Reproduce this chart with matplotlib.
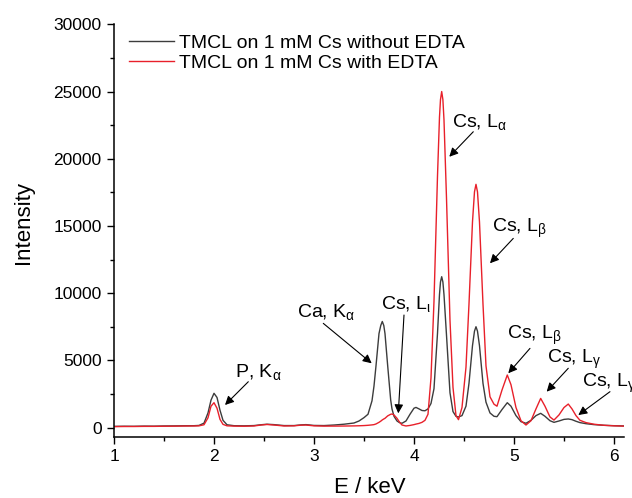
import matplotlib
matplotlib.use("Agg")
import matplotlib.pyplot as plt
from matplotlib.ticker import MultipleLocator

plt.rcParams['font.family'] = ['Liberation Sans', 'DejaVu Sans']
plt.rcParams['mathtext.fontset'] = 'custom'
plt.rcParams['mathtext.rm'] = 'Liberation Sans'
plt.rcParams['mathtext.it'] = 'Liberation Sans'
plt.rcParams['mathtext.bf'] = 'Liberation Sans:bold'

# ---- data ----
energy = [1.00, 1.10, 1.20, 1.30, 1.40, 1.50, 1.60, 1.70, 1.80, 1.85, 1.90, 1.94, 1.97, 2.00,
          2.03, 2.06, 2.09, 2.13, 2.20, 2.30, 2.40, 2.47, 2.53, 2.60, 2.70, 2.80, 2.87, 2.92,
          3.00, 3.10, 3.20, 3.30, 3.40, 3.45, 3.50, 3.54, 3.58, 3.60, 3.62, 3.65, 3.668, 3.683,
          3.698, 3.71, 3.737, 3.767, 3.78, 3.80, 3.83, 3.855, 3.88, 3.92, 3.96, 4.00, 4.02,
          4.05, 4.08, 4.11, 4.14, 4.17, 4.20, 4.235, 4.255, 4.265, 4.277, 4.289, 4.30, 4.325,
          4.36, 4.39, 4.42, 4.445, 4.48, 4.52, 4.55, 4.585, 4.605, 4.62, 4.635, 4.655, 4.69,
          4.72, 4.76, 4.80, 4.83, 4.88, 4.933, 4.97, 5.02, 5.07, 5.12, 5.17, 5.22, 5.267,
          5.31, 5.36, 5.40, 5.45, 5.50, 5.543, 5.58, 5.62, 5.66, 5.72, 5.80, 5.90, 6.00, 6.10]

without_edta = [100, 110, 105, 120, 115, 130, 135, 145, 150, 170, 340, 1100, 2050, 2560,
                2250, 1300, 550, 220, 150, 140, 160, 220, 260, 230, 160, 160, 210, 230,
                170, 160, 200, 260, 350, 500, 750, 1000, 2000, 3100, 4600, 7000, 7610, 7900,
                7600, 7000, 4600, 2060, 1400, 850, 500, 380, 330, 500, 1000, 1450, 1510,
                1400, 1280, 1260, 1400, 1800, 2900, 7000, 9900, 10840, 11230, 10840, 9900, 6900,
                2600, 1200, 850, 800, 900, 1600, 3300, 6100, 7180, 7510, 7180, 6100, 3300,
                1900, 1100, 850, 820, 1350, 1860, 1600, 900, 450, 330, 550, 900, 1070,
                850, 520, 400, 500, 620, 650, 600, 480, 380, 300, 230, 180, 150, 130]

with_edta = [80, 90, 90, 100, 100, 110, 115, 125, 130, 140, 220, 740, 1600, 1860,
             1450, 620, 250, 140, 120, 110, 130, 200, 240, 200, 130, 140, 190, 200,
             140, 120, 120, 125, 135, 145, 160, 180, 210, 230, 280, 400, 490, 580,
             650, 700, 880, 1000, 1020, 950, 700, 420, 200, 130, 170, 230, 270,
             320, 400, 550, 1000, 3700, 9400, 18700, 23100, 24400, 25000, 24400, 22900, 17100,
             8000, 3000, 900, 600, 1500, 4500, 9200, 15300, 17540, 18100, 17540, 15300, 9200,
             4600, 2300, 1750, 1600, 2800, 3920, 3200, 1500, 520, 200, 520, 1400, 2180,
             1600, 800, 570, 950, 1500, 1760, 1400, 900, 550, 380, 260, 180, 140, 120]

series_labels = ["TMCL on 1 mM Cs without EDTA", "TMCL on 1 mM Cs with EDTA"]

# annotations: label, text position, arrow tail, arrow head
ann_labels = [r"P, K$_{\mathrm{α}}$", r"Ca, K$_{\mathrm{α}}$", r"Cs, L$_{\mathrm{ι}}$",
              r"Cs, L$_{\mathrm{α}}$", r"Cs, L$_{\mathrm{β}}$", r"Cs, L$_{\mathrm{β}}$",
              r"Cs, L$_{\mathrm{γ}}$", r"Cs, L$_{\mathrm{γ}}$"]
ann_text_xy = [(2.21, 3790), (2.83, 8210), (3.667, 8800), (4.383, 22380),
               (4.783, 14530), (4.933, 6600), (5.327, 4830), (5.683, 3050)]
ann_tail_xy = [(2.343, 3420), (3.093, 7760), (3.90, 8380), (4.593, 22010),
               (4.993, 14080), (5.16, 5900), (5.543, 4420), (5.96, 2680)]
ann_head_xy = [(2.11, 1690), (3.577, 4790), (3.843, 1070), (4.353, 20150),
               (4.76, 12230), (4.943, 4050), (5.327, 2680), (5.643, 940)]

# ---- figure ----
fig = plt.figure(figsize=(6.32, 4.98), dpi=100)
ax = fig.add_axes([0.1804, 0.1225, 0.8069, 0.8287])

ax.plot(energy, without_edta, color='#3c3c3c', lw=1.0, label=series_labels[0])
ax.plot(energy, with_edta, color='#e8202a', lw=1.0, label=series_labels[1])

ax.set_xlim(1, 6.1)
ax.set_ylim(-690, 30000)
ax.xaxis.set_major_locator(MultipleLocator(1))
ax.xaxis.set_minor_locator(MultipleLocator(0.5))
ax.yaxis.set_major_locator(MultipleLocator(5000))
ax.yaxis.set_minor_locator(MultipleLocator(2500))

for s in ['top', 'right']:
    ax.spines[s].set_visible(False)
for s in ['left', 'bottom']:
    ax.spines[s].set_linewidth(1.1)

ax.tick_params(which='major', direction='out', length=5, width=1.0, labelsize=12.5, pad=4)
ax.tick_params(which='minor', direction='out', length=3, width=1.0)

ax.set_xlabel("E / keV", fontsize=16)
ax.set_ylabel("Intensity", fontsize=16)
ax.xaxis.set_label_coords(0.502, -0.098)
ax.yaxis.set_label_coords(-0.157, 0.52)

leg = ax.legend(loc='upper left', bbox_to_anchor=(0.030, 0.975), frameon=False,
                fontsize=14, handlelength=2.3, handletextpad=0.25, borderpad=0,
                borderaxespad=0, labelspacing=0.1)

for lab, txy, tail, head in zip(ann_labels, ann_text_xy, ann_tail_xy, ann_head_xy):
    ax.text(txy[0], txy[1], lab, fontsize=14, ha='left', va='baseline', clip_on=False)
    ax.annotate("", xy=head, xytext=tail,
                arrowprops=dict(arrowstyle='-|>', color='black', lw=0.8,
                                mutation_scale=13, shrinkA=0, shrinkB=0))

fig.savefig("out.png", dpi=100)
